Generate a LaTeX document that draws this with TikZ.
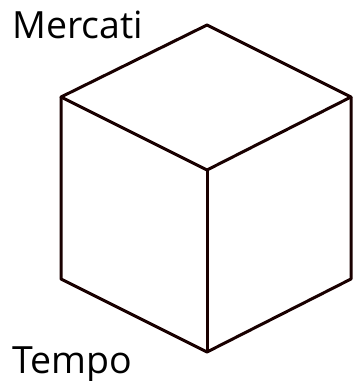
\documentclass[tikz,border=0pt]{standalone}
\usepackage{fontspec}
\setmainfont{Open Sans}
\usetikzlibrary{positioning}

\begin{document}
\begin{tikzpicture}[x=1pt, y=-1pt, line width=3pt, line join=round,
  cubeline/.style={draw=black!90!red},
  axislabel/.style={anchor=base west, inner sep=0pt, font=\fontsize{37.5}{42}\selectfont}]
  \useasboundingbox (0,0) rectangle (353,381);
  % vertici del cubo
  \coordinate (top) at (207,25);
  \coordinate (lt) at (61,97);
  \coordinate (rt) at (351,97);
  \coordinate (fc) at (207,170);
  \coordinate (lb) at (61,279);
  \coordinate (rb) at (351,279);
  \coordinate (fb) at (207,352);
  % spigoli
  \draw[cubeline] (lt) -- (top) -- (rt) -- (fc) -- cycle;
  \draw[cubeline] (lt) -- (lb) -- (fb) -- (rb) -- (rt);
  \draw[cubeline] (fc) -- (fb);
  % etichette
  \node[axislabel] (mercati) at (11,38) {Mercati};
  \node[axislabel] (tempo) at (11,373) {Tempo};
\end{tikzpicture}
\end{document}
